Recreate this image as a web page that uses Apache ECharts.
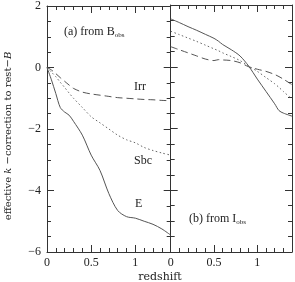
<!DOCTYPE html>
<html><head><meta charset="utf-8">
<script src="https://cdn.jsdelivr.net/npm/echarts@6/dist/echarts.min.js"></script>
<style>html,body{margin:0;padding:0;background:#fff}#c{width:295px;height:282px}</style>
</head><body><div id="c"></div>
<script>
// Panel (a): from B_obs
const zA = [0,0.05,0.1,0.15,0.2,0.25,0.3,0.4,0.5,0.6,0.7,0.8,0.9,1.0,1.1,1.2,1.3,1.4];
const aE   = [0,-0.4,-0.85,-1.3,-1.45,-1.55,-1.75,-2.2,-2.85,-3.35,-4.1,-4.65,-4.85,-4.9,-5.0,-5.1,-5.25,-5.45];
const aSbc = [0,-0.15,-0.3,-0.48,-0.65,-0.83,-1.0,-1.3,-1.6,-1.8,-2.0,-2.2,-2.35,-2.45,-2.6,-2.7,-2.78,-2.85];
const aIrr = [0,-0.08,-0.2,-0.33,-0.45,-0.57,-0.68,-0.8,-0.86,-0.9,-0.94,-0.98,-1.0,-1.02,-1.04,-1.05,-1.07,-1.08];
// Panel (b): from I_obs
const zB = [0,0.1,0.2,0.3,0.4,0.5,0.55,0.6,0.7,0.8,0.9,1.0,1.1,1.2,1.25,1.3,1.4];
const bE   = [1.55,1.43,1.3,1.18,1.05,0.92,0.83,0.72,0.55,0.35,0.02,-0.4,-0.8,-1.2,-1.42,-1.5,-1.6];
const bSbc = [1.15,1.04,0.93,0.82,0.7,0.58,0.52,0.45,0.33,0.2,0.02,-0.15,-0.35,-0.55,-0.67,-0.8,-1.05];
const bIrr = [0.65,0.55,0.45,0.35,0.25,0.2,0.23,0.22,0.2,0.13,0.0,-0.08,-0.15,-0.25,-0.32,-0.4,-0.58];
const xTicks = [0,0.5,1];
const yTicks = [-6,-4,-2,0,2];

const FONT = 'Liberation Serif';
const ink = '#333';
const pairs = (xs, ys) => xs.map((x,i)=>[x,ys[i]]);

function xAx(grid, pos, labels){
  return {type:'value', gridIndex:grid, position:pos, min:0, max:1.4, interval:0.5,
    axisLine:{show:true, onZero:false, lineStyle:{color:ink,width:1}},
    axisTick:{show:true, inside:true, length:7, lineStyle:{color:ink}},
    minorTick:{show:true, splitNumber:5, length:4, lineStyle:{color:ink}},
    splitLine:{show:false},
    axisLabel:{show:labels, color:'#222', fontFamily:FONT, fontSize:12, margin:5,
      formatter:v=> xTicks.includes(+v.toFixed(2)) ? String(+v.toFixed(2)) : ''}};
}
function yAx(grid, pos, labels){
  return {type:'value', gridIndex:grid, position:pos, min:-6, max:2, interval:2,
    axisLine:{show:true, onZero:false, lineStyle:{color:ink,width:1}},
    axisTick:{show:true, inside:true, length:7, lineStyle:{color:ink}},
    minorTick:{show:true, splitNumber:4, length:4, lineStyle:{color:ink}},
    splitLine:{show:false},
    axisLabel:{show:labels, color:'#222', fontFamily:FONT, fontSize:12, margin:6,
      formatter:v=> yTicks.includes(v) ? (v<0 ? '\u2212'+(-v) : String(v)) : ''}};
}
function line(xi, yi, data, type, color){
  return {type:'line', xAxisIndex:xi, yAxisIndex:yi, data:data, symbol:'none', smooth:0.3,
    lineStyle:{color:color, width:1, type:type}, silent:true};
}

const chart = echarts.init(document.getElementById('c'));
const xAxes = [xAx(0,'bottom',true), xAx(0,'top',false), xAx(1,'bottom',true), xAx(1,'top',false)];
const yAxes = [yAx(0,'left',true), yAx(0,'right',false), yAx(1,'left',false), yAx(1,'right',false)];

const lab = {fontFamily:'DejaVu Serif', fontSize:10.5, fill:'#222'};
chart.setOption({
  animation:false,
  backgroundColor:'#fff',
  grid:[{left:47, top:5, width:123.7, height:247},
        {left:170.7, top:5, width:123.3, height:247}],
  xAxis:xAxes, yAxis:yAxes,
  series:[
    line(0,0,pairs(zA,aE),'solid','#555'),
    line(0,0,pairs(zA,aSbc),[1.5,2.5],'#666'),
    line(0,0,pairs(zA,aIrr),[7,4],'#555'),
    line(2,2,pairs(zB,bE),'solid','#555'),
    line(2,2,pairs(zB,bSbc),[1.5,2.5],'#666'),
    line(2,2,pairs(zB,bIrr),[7,4],'#555')
  ],
  graphic:[
    {type:'text', x:8, y:136, rotation:Math.PI/2,
      style:{align:'center', verticalAlign:'middle',
        rich:{n:{fontFamily:'DejaVu Serif',fontSize:10,fill:'#222'},
              i:{fontFamily:'DejaVu Serif',fontSize:10,fontStyle:'italic',fill:'#222'}},
        text:'{n|effective }{i|k}{n| \u2212correction to rest\u2212}{i|B}'}},
    {type:'text', left:64, top:26, style:{rich:{n:{fontFamily:FONT,fontSize:12,fill:'#222'},s:{fontFamily:FONT,fontSize:7,fill:'#222',padding:[6,0,0,0]}}, text:'{n|(a) from B}{s|obs}'}},
    {type:'text', left:134, top:81, style:{fontFamily:FONT,fontSize:12,fill:'#222',text:'Irr'}},
    {type:'text', left:134, top:155, style:{fontFamily:FONT,fontSize:12,fill:'#222',text:'Sbc'}},
    {type:'text', left:135, top:198, style:{fontFamily:FONT,fontSize:12,fill:'#222',text:'E'}},
    {type:'text', left:189, top:213, style:{rich:{n:{fontFamily:FONT,fontSize:12,fill:'#222'},s:{fontFamily:FONT,fontSize:7,fill:'#222',padding:[6,0,0,0]}}, text:'{n|(b) from I}{s|obs}'}},
    {type:'text', x:160, y:277, style:{align:'center', verticalAlign:'middle', fontFamily:'DejaVu Serif',fontSize:11,fill:'#222',text:'redshift'}}
  ]
});
</script></body></html>
